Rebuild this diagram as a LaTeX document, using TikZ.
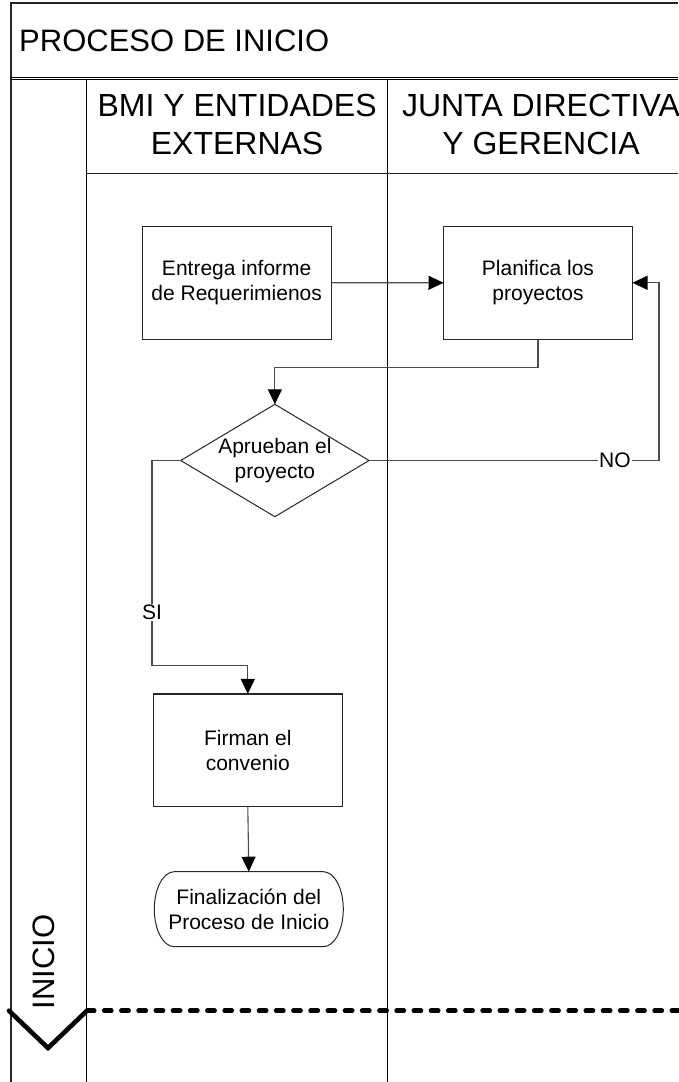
\documentclass[tikz,border=0pt]{standalone}
\usepackage{fontspec}
\setmainfont{Liberation Sans}
\usetikzlibrary{arrows.meta}
\begin{document}
\begin{tikzpicture}[x=1pt,y=-1pt,
  frameline/.style={line width=1.2pt, draw=black!85},
  laneline/.style={line width=1.1pt, draw=black},
  boxline/.style={line width=1.1pt, draw=black!85},
  txt/.style={font=\fontsize{21}{25}\selectfont, align=center, inner sep=0pt, outer sep=0pt},
  stepbox/.style={txt, draw=black!85, line width=1.1pt, minimum width=189pt, minimum height=112.7pt},
  hdr/.style={font=\fontsize{32}{38.3}\selectfont, align=center, inner sep=0pt},
  conn/.style={line width=1.1pt, draw=black!70, -{Triangle[length=15pt,width=14pt,color=black]}},
  plainconn/.style={line width=1.1pt, draw=black!70},
  lbl/.style={font=\fontsize{21}{25}\selectfont, fill=white, inner sep=1pt}
]
\useasboundingbox (0,0) rectangle (678,1082);

% outer frame and title band
\draw[frameline] (11,1082) -- (11,3) -- (678,3);
\draw[line width=0.9pt, black] (11,77.3) -- (678,77.3);
\draw[line width=0.9pt, black] (11,79.5) -- (678,79.5);
\node[anchor=base west, font=\fontsize{31}{37}\selectfont, inner sep=0pt] (title) at (19,51.5) {PROCESO DE INICIO};

% lanes and lane headers
\draw[laneline] (86.5,79.5) -- (86.5,1082);
\draw[laneline] (387.7,79.5) -- (387.7,1082);
\draw[frameline] (86.5,173.3) -- (678,173.3);
\node[hdr] (laneA) at (237.1,124.8) {BMI Y ENTIDADES\\EXTERNAS};
\node[hdr] (laneB) at (541,124.8) {JUNTA DIRECTIVA\\Y GERENCIA};

% phase marker
\node[font=\fontsize{31}{37}\selectfont, rotate=90, inner sep=0pt] (phase) at (44,962) {INICIO};
\coordinate (chevL) at (9,1010.7);
\coordinate (chevB) at (48,1048);
\coordinate (chevR) at (87,1010.7);
\coordinate (dashEnd) at (678,1010.7);
\draw[line width=4.6pt, line cap=round, line join=miter] (chevL) -- (chevB) -- (chevR);
\draw[line width=4.6pt, line cap=round, dash pattern=on 7.2pt off 10pt] (chevR) -- (dashEnd);

% process steps
\node[stepbox] (entrega) at (236.7,282.7) {Entrega informe\\de Requerimienos};
\node[stepbox] (planifica) at (538,282.8) {Planifica los\\proyectos};
\node[txt, minimum width=188.3pt, minimum height=112.4pt] (dec) at (274.9,460.5) {Aprueban el\\proyecto};
\draw[line width=1pt, black!85] (dec.north) -- (dec.east) -- (dec.south) -- (dec.west) -- cycle;
\node[stepbox] (firman) at (247.8,750.3) {Firman el\\convenio};
\node[txt, minimum width=189pt, minimum height=75pt] (final) at (248.8,909.2) {Finalización del\\Proceso de Inicio};
\draw[line width=1pt, black!85] ([xshift=20pt]final.north west) -- ([xshift=-20pt]final.north east)
  arc[start angle=90, end angle=-90, x radius=20pt, y radius=37.5pt]
  -- ([xshift=20pt]final.south west)
  arc[start angle=270, end angle=90, x radius=20pt, y radius=37.5pt] -- cycle;

% connectors
\coordinate (bend1) at (274.9,367.7);
\coordinate (nocorner) at (659,460.5);
\coordinate (si1) at (152,460.5);
\coordinate (si2) at (152,665.7);

\draw[conn] (entrega.east) -- (planifica.west);
\draw[conn] (planifica.south) |- (bend1) -- (dec.north);
\draw[conn] (dec.east) -- node[lbl, pos=0.848] (nolbl) {NO} (nocorner) |- (planifica.east);
\draw[plainconn] (dec.west) -- (si1) -- node[lbl, pos=0.742] (silbl) {SI} (si2);
\draw[conn] (si2) -| (firman.north);
\draw[conn] (firman.south) -- (final.north);
\end{tikzpicture}
\end{document}
